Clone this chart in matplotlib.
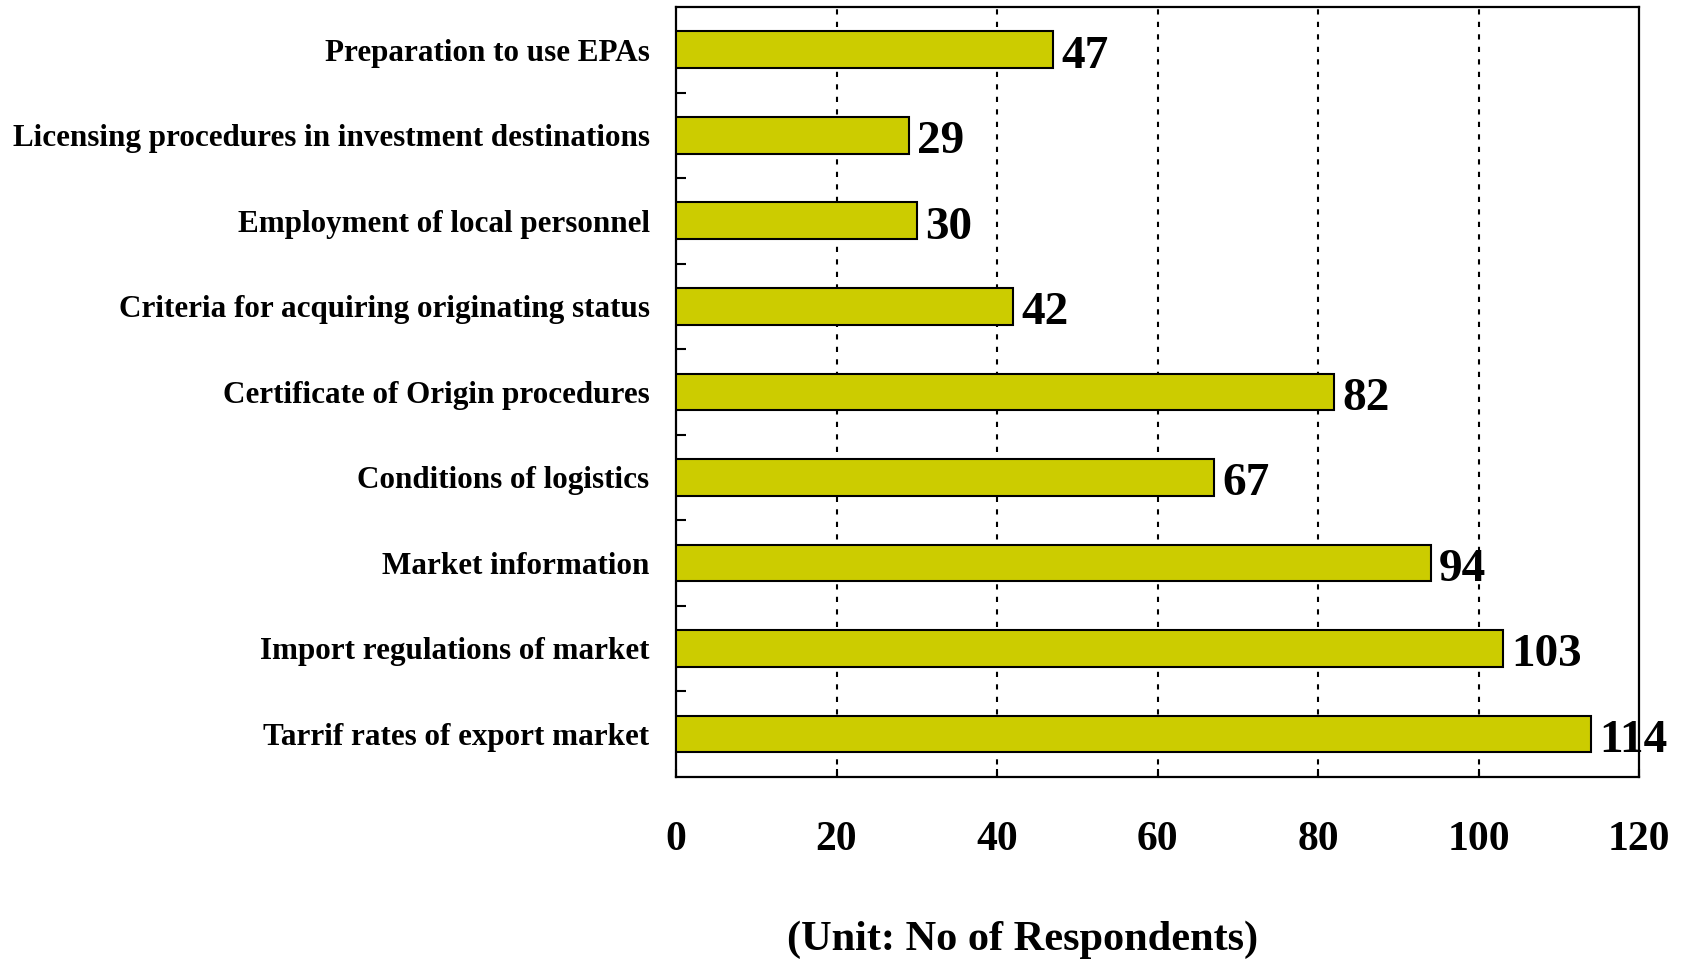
import matplotlib.pyplot as plt
from matplotlib.ticker import FixedLocator

# categories from top to bottom
categories = ['Preparation to use EPAs',
              'Licensing procedures in investment destinations',
              'Employment of local personnel',
              'Criteria for acquiring originating status',
              'Certificate of Origin procedures',
              'Conditions of logistics',
              'Market information',
              'Import regulations of market',
              'Tarrif rates of export market']
values = [47, 29, 30, 42, 82, 67, 94, 103, 114]
xticks = [0, 20, 40, 60, 80, 100, 120]

plt.rcParams['font.family'] = ['Liberation Serif', 'DejaVu Serif']
plt.rcParams['font.weight'] = 'bold'

fig = plt.figure(figsize=(16.9, 9.59), dpi=100, facecolor='white')
ax = fig.add_axes([0.4, 0.19, 0.57, 0.8027])

ypos = list(range(len(categories)))
ax.barh(ypos, values, height=0.43, color='#CCCC00', edgecolor='black', linewidth=1.5, zorder=3)

# value labels to the right of each bar
for y, v in zip(ypos, values):
    ax.annotate(str(v), xy=(v, y), xytext=(6, -5), textcoords='offset points',
                ha='left', va='center', fontsize=34, fontweight='bold', zorder=4)

ax.set_xlim(0, 120)
ax.set_ylim(len(categories) - 0.5, -0.5)
ax.set_xticks(xticks)
ax.set_xticklabels([str(t) for t in xticks], fontsize=30, fontweight='bold')
ax.set_yticks(ypos)
ax.set_yticklabels(categories, fontsize=22.4, fontweight='bold')

# small inward ticks between categories on the y axis
ax.yaxis.set_minor_locator(FixedLocator([i + 0.5 for i in range(len(categories) - 1)]))
ax.tick_params(axis='y', which='major', length=0, pad=19)
ax.tick_params(axis='y', which='minor', direction='in', length=7, width=1.5)
ax.tick_params(axis='x', which='major', direction='in', length=6, width=1.5, pad=32)

# dotted vertical grid
for t in xticks[1:-1]:
    ax.axvline(t, color='black', linestyle=(0, (2.5, 3.5)), linewidth=1.5, zorder=1)

for s in ax.spines.values():
    s.set_linewidth(1.6)

fig.text(0.605, 0.009, '(Unit: No of Respondents)', ha='center', va='baseline',
         fontsize=30.5, fontweight='bold')

fig.savefig('out.png', dpi=100, facecolor='white')
